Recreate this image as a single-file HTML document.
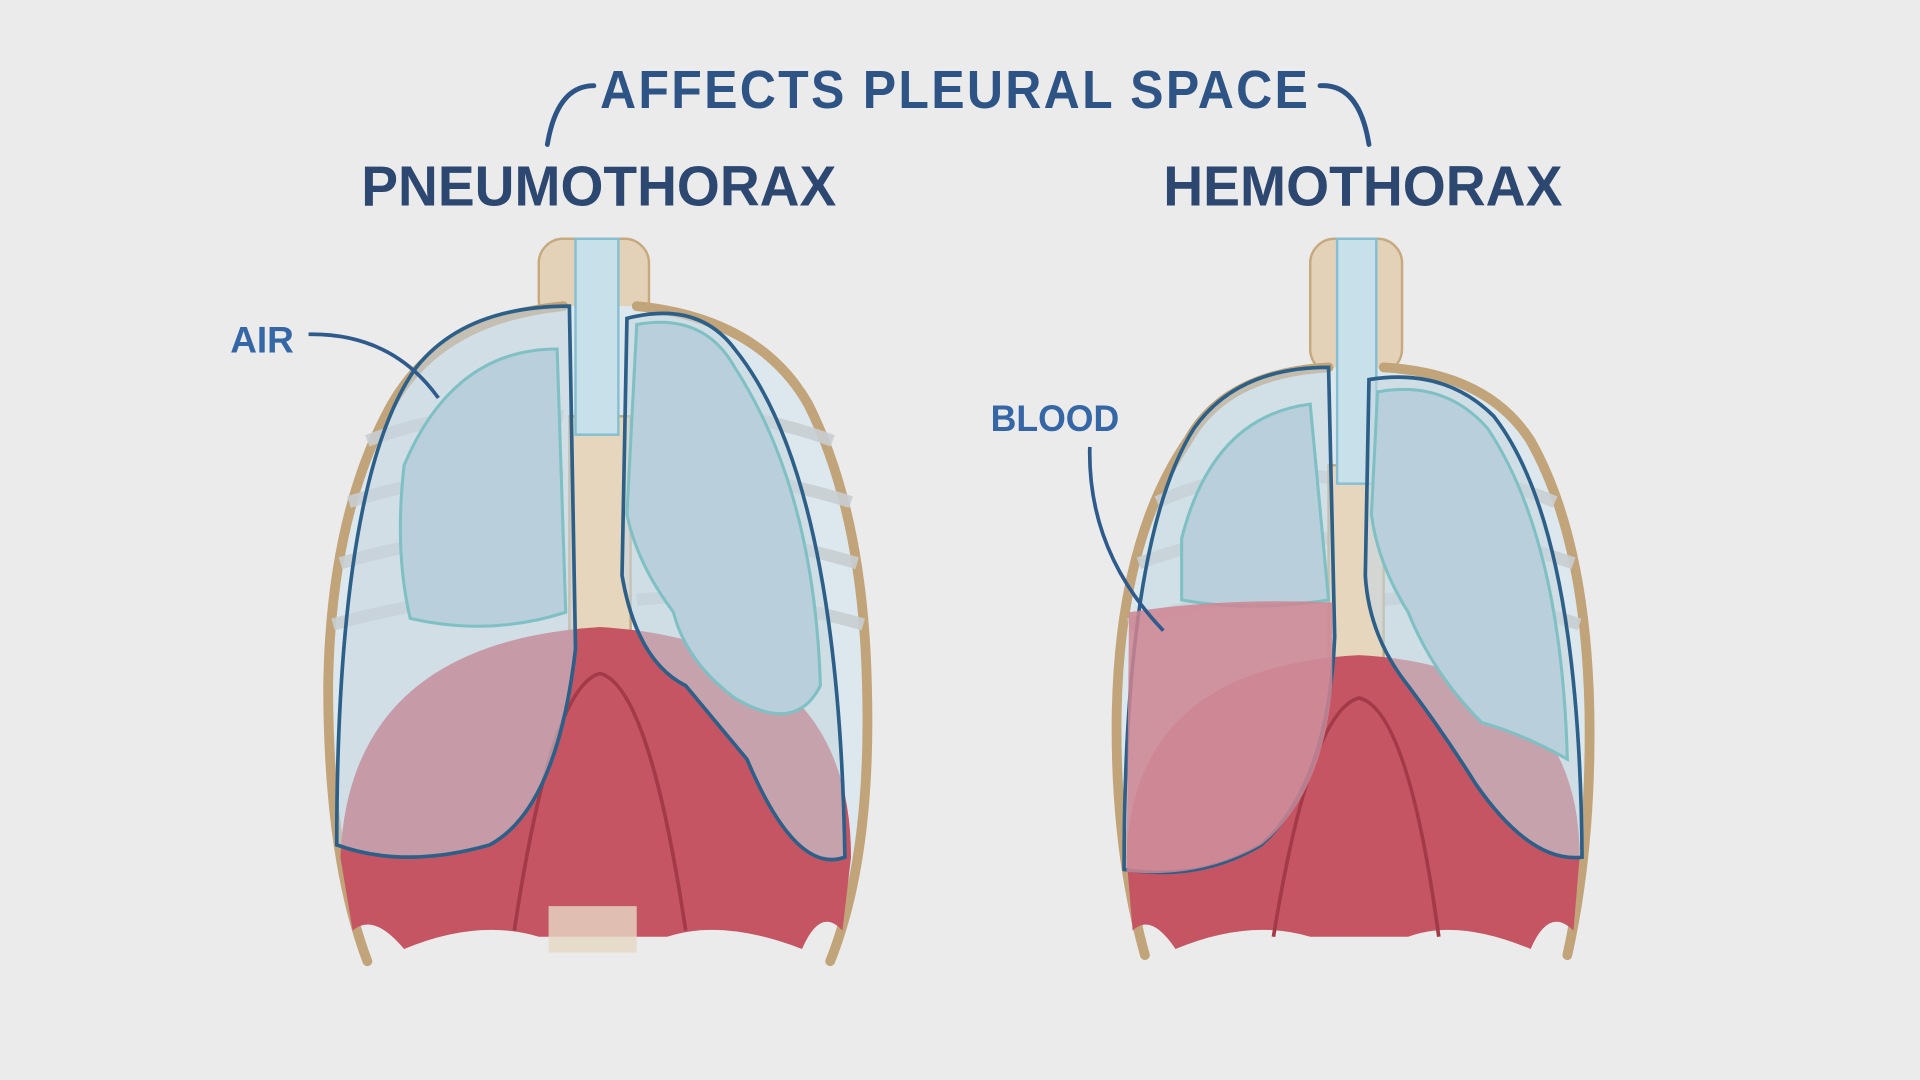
<!DOCTYPE html>
<html><head><style>
html,body{margin:0;padding:0;background:#ebebeb;}
svg{display:block;}
text{font-family:"Liberation Sans",sans-serif;}
</style></head><body>
<svg width="1920" height="1080" viewBox="0 0 1568 882" xmlns="http://www.w3.org/2000/svg">
<rect width="1568" height="882" fill="#ebebeb"/>
<path d="M485,70 Q455,70 447,118" fill="none" stroke="#2e5486" stroke-width="4" stroke-linecap="round"/>
<path d="M1078,70 Q1110,68 1118,118" fill="none" stroke="#2e5486" stroke-width="4" stroke-linecap="round"/>
<text x="780" y="88" text-anchor="middle" font-size="44" font-weight="bold" fill="#2e5486" letter-spacing="2" textLength="580" lengthAdjust="spacingAndGlyphs">AFFECTS PLEURAL SPACE</text>
<text x="489" y="168" text-anchor="middle" font-size="46" font-weight="bold" fill="#2c4770" textLength="388" lengthAdjust="spacingAndGlyphs">PNEUMOTHORAX</text>
<text x="1113" y="168" text-anchor="middle" font-size="46" font-weight="bold" fill="#2c4770" textLength="326" lengthAdjust="spacingAndGlyphs">HEMOTHORAX</text>
<text x="188" y="288" font-size="30" font-weight="bold" fill="#3567a6" textLength="52" lengthAdjust="spacingAndGlyphs">AIR</text>
<text x="809" y="352" font-size="30" font-weight="bold" fill="#3567a6" textLength="105" lengthAdjust="spacingAndGlyphs">BLOOD</text>

<!-- LEFT TORSO -->
<g>
<rect x="440" y="195" width="90" height="70" rx="20" fill="#e4d2b8" stroke="#c6a97f" stroke-width="2"/>
<path d="M460,250 Q360,260 320,330 Q270,420 268,560 Q265,690 290,740 L690,740 Q715,690 708,560 Q705,420 660,330 Q620,260 520,250 Z" fill="#dde8ee"/>
<path d="M300,785 Q268,700 268,560 Q270,420 320,330 Q360,260 460,250 M520,250 Q620,260 660,330 Q705,420 708,560 Q712,700 678,785" fill="none" stroke="#c2a47a" stroke-width="8" stroke-linecap="round"/>
<g stroke="#c9cfd2" stroke-width="10" fill="none" opacity="0.9">
<path d="M300,360 Q380,330 460,340"/><path d="M285,410 Q380,380 460,390"/><path d="M278,460 Q380,430 460,440"/><path d="M272,510 Q380,480 460,490"/>
<path d="M680,360 Q600,330 520,340"/><path d="M695,410 Q600,380 520,390"/><path d="M700,460 Q600,430 520,440"/><path d="M705,510 Q600,480 520,490"/>
</g>
<rect x="465" y="340" width="50" height="180" fill="#e6d6bd" stroke="#c4a87e" stroke-width="2"/>
<rect x="470" y="195" width="35" height="160" fill="#c7e0ea" stroke="#86bfd1" stroke-width="2"/>
<path d="M278,700 Q285,525 490,512 Q695,525 695,700 L688,760 Q670,740 655,775 Q590,750 545,765 L440,765 Q390,750 330,775 Q305,745 288,760 Z" fill="#c65563"/>
<path d="M420,760 Q450,560 490,550 Q530,560 560,760" fill="none" stroke="#a33a48" stroke-width="3"/>
<rect x="448" y="740" width="72" height="38" fill="#e6d8c4" opacity="0.8"/>
<path d="M465,250 Q380,250 340,300 Q275,390 275,690 Q330,710 400,690 Q455,660 470,530 Z" fill="#c6d5e0" fill-opacity="0.55" stroke="#2c6088" stroke-width="3"/>
<path d="M330,380 Q370,285 455,285 L462,500 Q400,520 335,505 Q322,450 330,380 Z" fill="#b9cfdb" stroke="#7fc0c4" stroke-width="2.5"/>
<path d="M512,260 Q570,245 600,285 Q685,390 690,700 Q650,715 610,620 Q585,590 560,560 Q520,540 508,470 Z" fill="#c6d5e0" fill-opacity="0.6" stroke="#2c6088" stroke-width="3"/>
<path d="M520,265 Q575,255 600,300 Q665,400 670,560 Q650,600 600,570 Q560,540 550,500 Q520,460 512,420 Z" fill="#b9cfdb" stroke="#7fc0c4" stroke-width="2.5"/>
<path d="M252,273 Q320,272 358,325" fill="none" stroke="#2e5a8c" stroke-width="3"/>
</g>

<!-- RIGHT TORSO -->
<g>
<rect x="1070" y="195" width="75" height="110" rx="20" fill="#e4d2b8" stroke="#c6a97f" stroke-width="2"/>
<path d="M1085,300 Q1000,305 970,360 Q915,440 912,580 Q910,690 930,740 L1285,740 Q1300,690 1298,580 Q1295,440 1250,360 Q1215,305 1130,300 Z" fill="#dde8ee"/>
<path d="M935,780 Q910,690 912,580 Q915,440 970,360 Q1000,305 1085,300 M1130,300 Q1215,305 1250,360 Q1295,440 1298,580 Q1300,690 1280,780" fill="none" stroke="#c2a47a" stroke-width="8" stroke-linecap="round"/>
<g stroke="#c9cfd2" stroke-width="10" fill="none" opacity="0.9">
<path d="M945,410 Q1010,380 1085,390"/><path d="M930,460 Q1010,430 1085,440"/><path d="M922,510 Q1010,480 1085,490"/>
<path d="M1270,410 Q1200,380 1130,390"/><path d="M1285,460 Q1200,430 1130,440"/><path d="M1290,510 Q1200,480 1130,490"/>
</g>
<rect x="1085" y="380" width="45" height="160" fill="#e6d6bd" stroke="#c4a87e" stroke-width="2"/>
<rect x="1092" y="195" width="32" height="200" fill="#c7e0ea" stroke="#86bfd1" stroke-width="2"/>
<path d="M920,700 Q925,545 1110,535 Q1290,545 1290,700 L1285,760 Q1265,740 1250,775 Q1190,750 1150,765 L1070,765 Q1020,750 960,775 Q940,745 925,760 Z" fill="#c65563"/>
<path d="M1040,765 Q1070,580 1110,570 Q1150,580 1175,765" fill="none" stroke="#a33a48" stroke-width="3"/>
<path d="M1085,300 Q1010,300 975,350 Q918,440 918,710 Q980,720 1030,690 Q1085,640 1090,520 Z" fill="#c6d5e0" fill-opacity="0.5" stroke="#2c6088" stroke-width="3"/>
<path d="M965,440 Q990,340 1070,330 L1085,490 Q1020,500 965,490 Z" fill="#b9cfdb" stroke="#7fc0c4" stroke-width="2.5"/>
<path d="M922,500 Q1000,488 1088,492 L1088,560 Q1080,650 1030,690 Q980,718 920,712 Z" fill="#cf8592" fill-opacity="0.85"/>
<path d="M1118,310 Q1180,300 1220,340 Q1290,430 1292,700 Q1250,705 1205,640 Q1180,600 1150,560 Q1118,520 1115,470 Z" fill="#c6d5e0" fill-opacity="0.6" stroke="#2c6088" stroke-width="3"/>
<path d="M1125,320 Q1180,310 1215,350 Q1275,440 1280,620 Q1245,600 1210,590 Q1170,550 1150,500 Q1125,460 1120,420 Z" fill="#b9cfdb" stroke="#7fc0c4" stroke-width="2.5"/>
<path d="M890,365 Q888,450 950,515" fill="none" stroke="#2e5a8c" stroke-width="3"/>
</g>
</svg>
</body></html>
